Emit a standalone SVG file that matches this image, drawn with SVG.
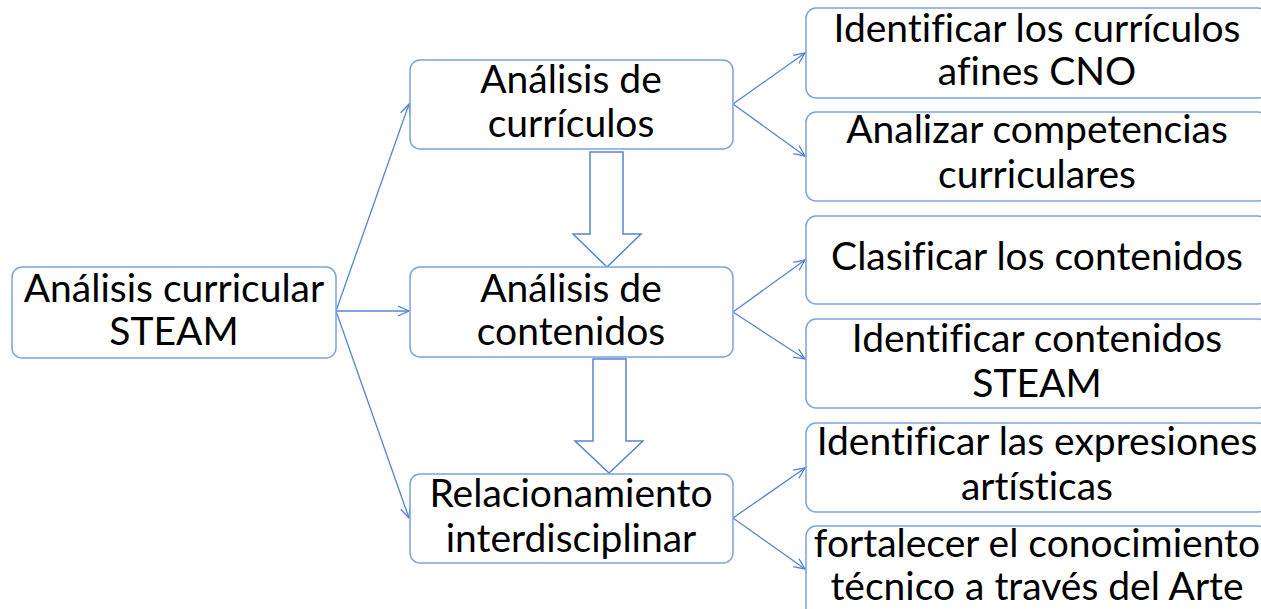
<svg xmlns="http://www.w3.org/2000/svg" width="1261" height="609" viewBox="0 0 1261 609">
<defs>
<style>
.box{fill:#fff;stroke:#7BA3DC;stroke-width:1.5}
.t{font-family:Lato,"Open Sans",sans-serif;font-size:39px;fill:#000;text-anchor:middle;font-variant-ligatures:none}
.c{fill:none;stroke:#5584D0;stroke-width:1.3}
.blk{fill:#fff;stroke:#5584D0;stroke-width:1.5;stroke-linejoin:miter}
</style>
<marker id="ah" viewBox="0 0 12 12" refX="11" refY="6" markerWidth="12" markerHeight="12" markerUnits="userSpaceOnUse" orient="auto">
<path d="M0,1 L11,6 L0,11" fill="none" stroke="#5584D0" stroke-width="1.3"/>
</marker>
</defs>
<rect width="1261" height="609" fill="#fff"/>
<g id="connectors">
<path class="c" d="M336,311 L409,104" marker-end="url(#ah)"/>
<path class="c" d="M336,311 L409,311" marker-end="url(#ah)"/>
<path class="c" d="M336,311 L409,518" marker-end="url(#ah)"/>
<path class="c" d="M733,104 L805,53" marker-end="url(#ah)"/>
<path class="c" d="M733,104 L805,156" marker-end="url(#ah)"/>
<path class="c" d="M733,312 L805,260" marker-end="url(#ah)"/>
<path class="c" d="M733,312 L805,359" marker-end="url(#ah)"/>
<path class="c" d="M733,518 L805,468" marker-end="url(#ah)"/>
<path class="c" d="M733,518 L805,569" marker-end="url(#ah)"/>
<path class="blk" d="M590,152 L623,152 L623,234 L641,234 L607,267 L573,234 L590,234 Z"/>
<path class="blk" d="M593,359 L626,359 L626,441 L643,441 L609,473 L575,441 L593,441 Z"/>
</g>
<g id="n-root"><rect class="box" x="12" y="267" width="324" height="91" rx="10"/>
<text class="t" x="174" y="302">Análisis curricular</text><text class="t" x="174" y="345">STEAM</text></g>
<g id="n-curriculos"><rect class="box" x="410" y="60" width="323" height="89" rx="10"/>
<text class="t" x="571" y="93">Análisis de</text><text class="t" x="571" y="137">currículos</text></g>
<g id="n-contenidos"><rect class="box" x="410" y="267" width="323" height="90" rx="10"/>
<text class="t" x="571" y="302">Análisis de</text><text class="t" x="571" y="345">contenidos</text></g>
<g id="n-relacionamiento"><rect class="box" x="410" y="474" width="323" height="89" rx="10"/>
<text class="t" x="571" y="507">Relacionamiento</text><text class="t" x="571" y="552">interdisciplinar</text></g>
<g id="n-identificar-curriculos"><rect class="box" x="806" y="8" width="462" height="90" rx="10"/>
<text class="t" x="1037" y="42">Identificar los currículos</text><text class="t" x="1037" y="85">afines CNO</text></g>
<g id="n-competencias"><rect class="box" x="806" y="112" width="462" height="89" rx="10"/>
<text class="t" x="1037" y="143">Analizar competencias</text><text class="t" x="1037" y="188">curriculares</text></g>
<g id="n-clasificar"><rect class="box" x="806" y="216" width="462" height="88" rx="10"/>
<text class="t" x="1037" y="270">Clasificar los contenidos</text></g>
<g id="n-identificar-steam"><rect class="box" x="806" y="319" width="462" height="89" rx="10"/>
<text class="t" x="1037" y="352">Identificar contenidos</text><text class="t" x="1037" y="397">STEAM</text></g>
<g id="n-expresiones"><rect class="box" x="806" y="423" width="462" height="89" rx="10"/>
<text class="t" x="1037" y="455">Identificar las expresiones</text><text class="t" x="1037" y="500">artísticas</text></g>
<g id="n-fortalecer"><rect class="box" x="806" y="526" width="462" height="100" rx="10"/>
<text class="t" x="1037" y="557">fortalecer el conocimiento</text><text class="t" x="1037" y="600">técnico a través del Arte</text></g>
</svg>
